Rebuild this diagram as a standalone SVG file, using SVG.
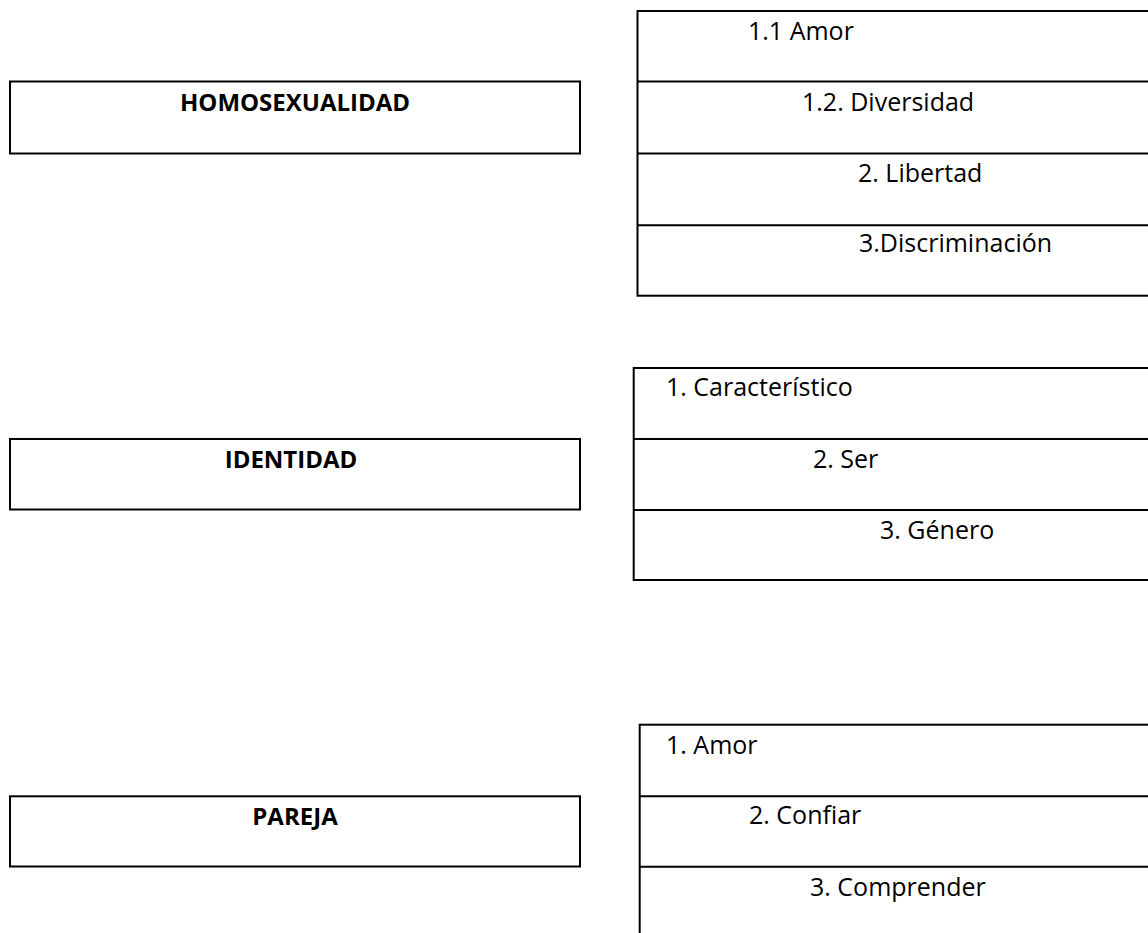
<svg xmlns="http://www.w3.org/2000/svg" width="1148" height="933" viewBox="0 0 1148 933">
<style>
.box{fill:#ffffff;stroke:#000000;stroke-width:2}
.div{stroke:#000000;stroke-width:2}
.t{font-family:"Open Sans","Noto Sans","Liberation Sans",sans-serif;font-size:25px;fill:#000000}
.b{font-family:"Open Sans","Noto Sans","Liberation Sans",sans-serif;font-size:24px;font-weight:bold;fill:#000000;text-anchor:middle}
</style>
<rect x="0" y="0" width="1148" height="933" fill="#ffffff"/>
<g id="connectors"/>
<g id="homosexualidad">
<rect class="box" x="10" y="81.5" width="570" height="72"/>
<text class="b" x="295" y="111">HOMOSEXUALIDAD</text>
</g>
<g id="identidad">
<rect class="box" x="10" y="439" width="570" height="70.5"/>
<text class="b" x="291" y="468">IDENTIDAD</text>
</g>
<g id="pareja">
<rect class="box" x="10" y="796.3" width="570" height="70.2"/>
<text class="b" x="295" y="825">PAREJA</text>
</g>
<g id="lista-homosexualidad">
<rect class="box" x="637.5" y="11" width="530" height="284.7"/>
<line class="div" x1="637.5" y1="81.5" x2="1160" y2="81.5"/>
<line class="div" x1="637.5" y1="153.5" x2="1160" y2="153.5"/>
<line class="div" x1="637.5" y1="225.3" x2="1160" y2="225.3"/>
<text class="t" x="748" y="40">1.1 Amor</text>
<text class="t" x="802" y="110.7">1.2. Diversidad</text>
<text class="t" x="858" y="181.7">2. Libertad</text>
<text class="t" x="859" y="252">3.Discriminación</text>
</g>
<g id="lista-identidad">
<rect class="box" x="633.7" y="368" width="530" height="212"/>
<line class="div" x1="633.7" y1="439" x2="1160" y2="439"/>
<line class="div" x1="633.7" y1="510" x2="1160" y2="510"/>
<text class="t" x="666" y="396">1. Característico</text>
<text class="t" x="813" y="468">2. Ser</text>
<text class="t" x="880" y="539">3. Género</text>
</g>
<g id="lista-pareja">
<rect class="box" x="639.7" y="724.7" width="530" height="230"/>
<line class="div" x1="639.7" y1="796.3" x2="1160" y2="796.3"/>
<line class="div" x1="639.7" y1="866.7" x2="1160" y2="866.7"/>
<text class="t" x="666" y="754">1. Amor</text>
<text class="t" x="749" y="824">2. Confiar</text>
<text class="t" x="810" y="895.5">3. Comprender</text>
</g>
</svg>
